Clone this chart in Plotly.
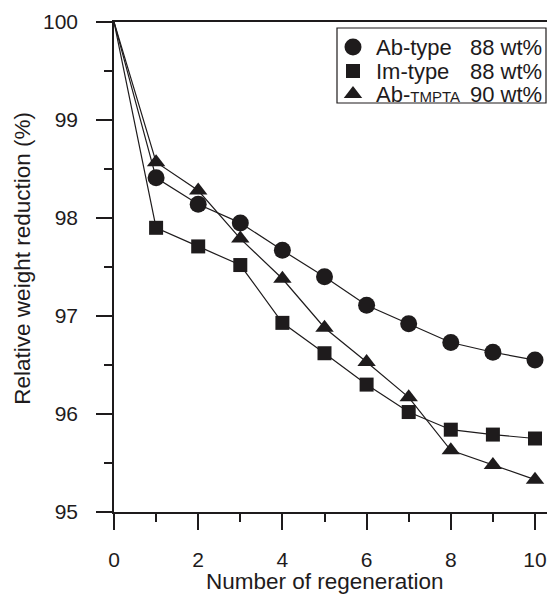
import plotly.graph_objects as go

# regeneration cycles
cycles = [0, 1, 2, 3, 4, 5, 6, 7, 8, 9, 10]

# relative weight reduction (%)
ab_type = [100, 98.41, 98.14, 97.95, 97.67, 97.40, 97.11, 96.92, 96.73, 96.63, 96.55]
im_type = [100, 97.90, 97.71, 97.52, 96.93, 96.62, 96.30, 96.02, 95.84, 95.79, 95.75]
ab_tmpta = [100, 98.57, 98.28, 97.79, 97.38, 96.88, 96.53, 96.17, 95.63, 95.48, 95.33]

x_ticks = [0, 2, 4, 6, 8, 10]
names = ["Ab-type", "Im-type", "Ab-<span style='font-size:15px'>TMPTA</span>"]
loadings = ["88 wt%", "88 wt%", "90 wt%"]

symbols = ["circle", "square", "triangle-up"]
sizes = [17, 14, 16]

FONT = "Liberation Sans, Arial, sans-serif"
INK = "#1e1b1c"

fig = go.Figure()

for ys, sym, sz in zip([ab_type, im_type, ab_tmpta], symbols, sizes):
    # the starting point (0, 100) carries no marker
    fig.add_trace(go.Scatter(
        x=cycles, y=ys, mode="lines+markers", opacity=1,
        line=dict(color=INK, width=1.2),
        marker=dict(symbol=sym, color=INK, opacity=1,
                    size=[0] + [sz] * (len(ys) - 1), line=dict(width=0)),
        showlegend=False, cliponaxis=False,
    ))

# ---- boxed legend, laid out on a pixel-space overlay axis ----
# (page pixels: the plot area spans x 114..555, y 22..512 once the body margin is added)
box_x0, box_x1, box_y0, box_y1 = 337, 546, 28, 103
key_x, name_x, load_x = 353, 374, 468
row_y = [47, 71, 94]

fig.add_trace(go.Scatter(
    x=[key_x] * 3, y=row_y, xaxis="x2", yaxis="y2", mode="markers", opacity=1,
    marker=dict(symbol=symbols, size=sizes, color=INK, opacity=1, line=dict(width=0)),
    showlegend=False, hoverinfo="skip",
))
fig.add_shape(type="rect", xref="x2", yref="y2",
              x0=box_x0, x1=box_x1, y0=box_y0, y1=box_y1,
              line=dict(color=INK, width=1.2), fillcolor="white", layer="below")
for nm, ld, ry in zip(names, loadings, row_y):
    fig.add_annotation(xref="x2", yref="y2", x=name_x, y=ry, text=nm,
                       showarrow=False, xanchor="left", yanchor="middle",
                       font=dict(size=22))
    fig.add_annotation(xref="x2", yref="y2", x=load_x, y=ry, text=ld,
                       showarrow=False, xanchor="left", yanchor="middle",
                       font=dict(size=22))

# axis titles
fig.add_annotation(xref="x", yref="paper", x=5, y=-0.141, text="Number of regeneration",
                   showarrow=False, xanchor="center", yanchor="middle", font=dict(size=22.5))
fig.add_annotation(xref="paper", yref="paper", x=-0.2075, y=0.518, textangle=-90,
                   text="Relative weight reduction (%)", showarrow=False,
                   xanchor="center", yanchor="middle", font=dict(size=22.5))

fig.update_layout(
    width=555, height=594,
    margin=dict(l=106, r=8, t=14, b=90, autoexpand=False),
    paper_bgcolor="white", plot_bgcolor="white",
    font=dict(family=FONT, size=21, color=INK),
    showlegend=False,
    xaxis=dict(
        range=[0, 10.475], tickvals=x_ticks, automargin=False,
        showline=True, linecolor=INK, linewidth=1.5, mirror=True,
        ticks="outside", ticklen=16, tickwidth=1.5, tickcolor=INK,
        minor=dict(tickvals=[1, 3, 5, 7, 9], ticks="outside", ticklen=8,
                   tickwidth=1.5, tickcolor=INK),
        showgrid=False, zeroline=False, ticklabelstandoff=12,
    ),
    yaxis=dict(
        range=[95, 100], dtick=1, automargin=False,
        showline=True, linecolor=INK, linewidth=1.5,
        ticks="outside", ticklen=16, tickwidth=1.5, tickcolor=INK,
        minor=dict(dtick=0.5, ticks="outside", ticklen=8, tickwidth=1.5, tickcolor=INK),
        showgrid=False, zeroline=False, ticklabelstandoff=14,
    ),
    xaxis2=dict(overlaying="x", range=[114, 555], visible=False, fixedrange=True),
    yaxis2=dict(overlaying="y", range=[512, 22], visible=False, fixedrange=True),
)

fig.write_html("out.html")
